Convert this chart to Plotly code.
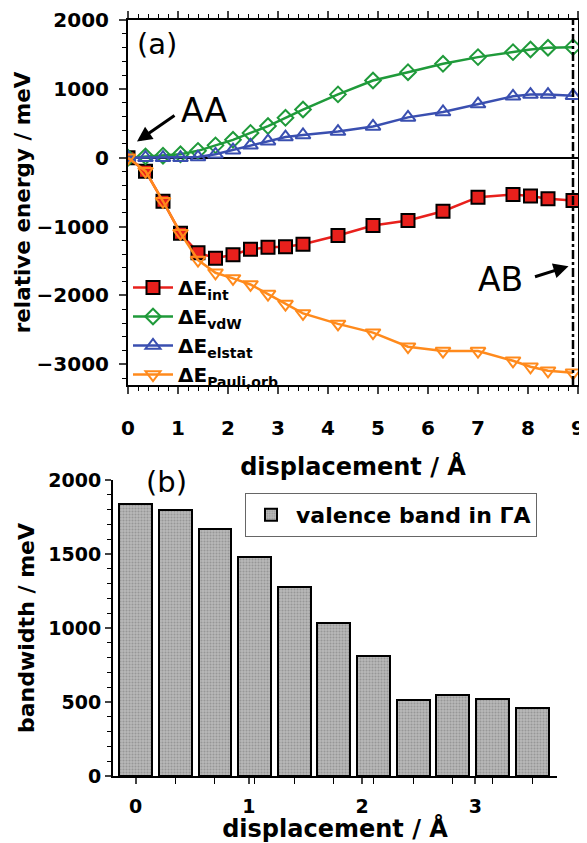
import plotly.graph_objects as go

# ---- data (panel a) ----
disp_a = [0, 0.35, 0.7, 1.05, 1.4, 1.75, 2.1, 2.45, 2.8, 3.15, 3.5, 4.2, 4.9, 5.6, 6.3, 7.0, 7.7, 8.05, 8.4, 8.9]
e_int = [0, -195, -632, -1096, -1378, -1460, -1408, -1330, -1301, -1291, -1256, -1130, -985, -912, -777, -573, -534, -557, -597, -620]
e_vdw = [0, 20, 30, 50, 100, 180, 260, 360, 460, 580, 700, 920, 1121, 1242, 1364, 1461, 1534, 1572, 1597, 1606]
e_elstat = [0, 0, 0, 0, 10, 50, 110, 180, 240, 300, 330, 380, 455, 586, 664, 780, 892, 917, 917, 900]
e_pauli = [0, -195, -632, -1096, -1485, -1670, -1752, -1840, -1980, -2125, -2261, -2413, -2540, -2744, -2807, -2807, -2948, -3035, -3093, -3122]
ab_position = 8.9

# ---- data (panel b) ----
disp_b = [0, 0.35, 0.7, 1.05, 1.4, 1.75, 2.1, 2.45, 2.8, 3.15, 3.5]
bandwidth = [1838, 1797, 1667, 1482, 1275, 1036, 811, 514, 547, 520, 457]

FONT = "DejaVu Sans"
OFF = 8            # page body margin offset
W, H = 587 - OFF, 843 - OFF

def fx(p):
    return (p - OFF) / W

def fy(p):
    return 1 - (p - OFF) / H

fig = go.Figure()

series = [
    ("ΔE<sub>int</sub>", e_int, "#e8201c", dict(symbol="square", size=13, color="#e8201c", line=dict(color="black", width=2))),
    ("ΔE<sub>vdW</sub>", e_vdw, "#1f9a3a", dict(symbol="diamond-open", size=12, color="#1f9a3a", line=dict(width=2))),
    ("ΔE<sub>elstat</sub>", e_elstat, "#3a4fb0", dict(symbol="triangle-up-open", size=13, color="#3a4fb0", line=dict(width=2))),
    ("ΔE<sub>Pauli,orb</sub>", e_pauli, "#ff8a1c", dict(symbol="triangle-down-open", size=13, color="#ff8a1c", line=dict(width=2))),
]
for name, ys, col, mk in series:
    fig.add_trace(go.Scatter(x=disp_a, y=ys, mode="lines+markers", name=name,
                             line=dict(color=col, width=2.5), marker=mk,
                             xaxis="x", yaxis="y", legend="legend"))

fig.add_trace(go.Bar(x=disp_b, y=bandwidth, width=0.29, name="valence band in ΓA",
                     marker=dict(color="#a4a4a4", line=dict(color="black", width=2),
                                 pattern=dict(shape=".", fgcolor="#767676", bgcolor="#b8b8b8", size=3, solidity=0.35)),
                     xaxis="x2", yaxis="y2", legend="legend2"))

tickfont = dict(family=FONT, size=20, color="black", weight="bold")
tickfont_b = dict(family=FONT, size=19, color="black", weight="bold")
xtitlefont = dict(family=FONT, size=24, color="black", weight="bold")

fig.update_layout(
    width=W, height=H,
    margin=dict(l=0, r=0, t=0, b=0, autoexpand=False),
    paper_bgcolor="white", plot_bgcolor="white",
    bargap=0,
    showlegend=True,
    xaxis=dict(domain=[fx(128), fx(578)], range=[0, 9], anchor="y", automargin=False,
               tickvals=list(range(10)), ticks="outside", ticklen=7, tickwidth=1.5, ticklabelstandoff=17,
               minor=dict(dtick=0.2, ticks="outside", ticklen=4, tickwidth=1.2, tickcolor="black"),
               showline=True, linewidth=2, linecolor="black", mirror="allticks",
               showgrid=False, zeroline=False, tickfont=tickfont,
               title=dict(text="displacement / Å", font=xtitlefont, standoff=19)),
    yaxis=dict(domain=[fy(385), fy(20)], range=[-3300, 2000], anchor="x", automargin=False,
               tickvals=[-3000, -2000, -1000, 0, 1000, 2000], ticks="outside", ticklen=7, tickwidth=1.5,
               ticklabelstandoff=6,
               minor=dict(dtick=200, tick0=0, ticks="outside", ticklen=4, tickwidth=1.2, tickcolor="black"),
               showline=True, linewidth=2, linecolor="black", mirror="allticks",
               showgrid=False, zeroline=True, zerolinecolor="black", zerolinewidth=1.5,
               tickfont=tickfont, tickformat="d",
               title=dict(text="relative energy / meV", font=dict(family=FONT, size=21.5, color="black", weight="bold"), standoff=0)),
    xaxis2=dict(domain=[fx(113), fx(557)], range=[-0.2, 3.72], anchor="y2", automargin=False,
                tickvals=[0, 1, 2, 3], ticks="outside", ticklen=6, tickwidth=1.5, ticklabelstandoff=6,
                minor=dict(tickvals=disp_b, ticks="outside", ticklen=6, tickwidth=1.2, tickcolor="black"),
                showline=True, linewidth=2, linecolor="black",
                showgrid=False, zeroline=False, tickfont=tickfont_b,
                title=dict(text="displacement / Å", font=xtitlefont, standoff=12)),
    yaxis2=dict(domain=[fy(776), fy(480)], range=[0, 2000], anchor="x2", automargin=False,
                tickvals=[0, 500, 1000, 1500, 2000], ticks="outside", ticklen=6, tickwidth=1.5,
                minor=dict(dtick=100, ticks="outside", ticklen=4, tickwidth=1.2, tickcolor="black"),
                showline=True, linewidth=2, linecolor="black",
                showgrid=False, zeroline=False, tickfont=tickfont_b, tickformat="d",
                title=dict(text="bandwidth / meV", font=dict(family=FONT, size=22, color="black", weight="bold"), standoff=8)),
    legend=dict(x=fx(128), y=fy(268), xanchor="left", yanchor="top",
                bgcolor="rgba(255,255,255,0)", borderwidth=0,
                font=dict(family=FONT, size=20, color="black", weight="bold"),
                itemwidth=40, tracegroupgap=0, traceorder="normal"),
    legend2=dict(x=fx(245), y=fy(493), xanchor="left", yanchor="top",
                 bgcolor="white", bordercolor="#666666", borderwidth=1, itemwidth=40,
                 font=dict(family=FONT, size=22, color="black", weight="bold")),
    annotations=[
        dict(text="(a)", x=fx(157), y=fy(44), xref="paper", yref="paper", showarrow=False,
             xanchor="center", yanchor="middle",
             font=dict(family=FONT, size=29, color="black")),
        dict(text="(b)", x=fx(166), y=fy(482), xref="paper", yref="paper", showarrow=False,
             xanchor="center", yanchor="middle",
             font=dict(family=FONT, size=29, color="black")),
        dict(text="AA", x=fx(204), y=fy(110), xref="paper", yref="paper", showarrow=False,
             xanchor="center", yanchor="middle",
             font=dict(family=FONT, size=33, color="black")),
        dict(text="", x=0.18, y=237, xref="x", yref="y", ax=39, ay=-27,
             showarrow=True, arrowhead=2, arrowsize=1, arrowwidth=3, arrowcolor="black", standoff=0),
        dict(text="AB", x=fx(500), y=fy(279), xref="paper", yref="paper", showarrow=False,
             xanchor="center", yanchor="middle",
             font=dict(family=FONT, size=33, color="black")),
        dict(text="", x=8.81, y=-1576, xref="x", yref="y", ax=-35, ay=11,
             showarrow=True, arrowhead=2, arrowsize=1, arrowwidth=3, arrowcolor="black", standoff=0),
    ],
    shapes=[
        dict(type="line", xref="x", yref="y domain", x0=ab_position, x1=ab_position, y0=0, y1=1,
             line=dict(color="black", width=2.5, dash="dashdot")),
    ],
)

fig.write_html("out.html")
